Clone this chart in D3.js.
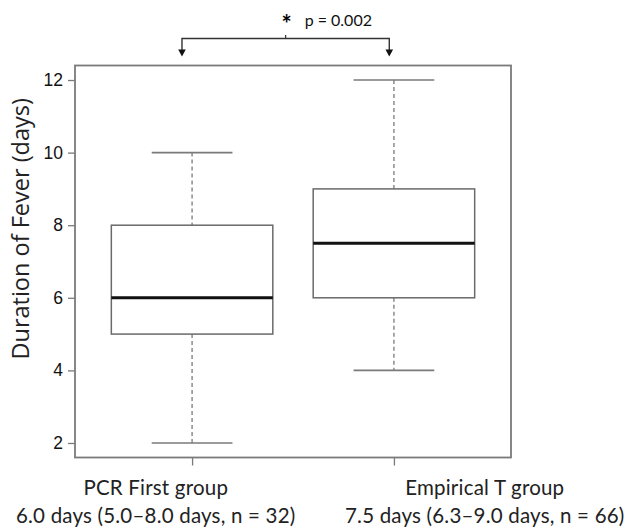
<!DOCTYPE html>
<html>
<head>
<meta charset="utf-8">
<script src="https://cdn.jsdelivr.net/npm/d3@7"></script>
<style>
  html, body { margin: 0; padding: 0; background: #fff; }
  svg { display: block; }
</style>
</head>
<body>
<div id="chart"></div>
<script>
// ── Data ──────────────────────────────────────────────────────
const groups      = ['PCR First group', 'Empirical T group'];
const summaries   = ['6.0 days (5.0–8.0 days, n = 32)', '7.5 days (6.3–9.0 days, n = 66)'];
const whiskerLow  = [2, 4];
const q1          = [5, 6];
const medians     = [6, 7.5];
const q3          = [8, 9];
const whiskerHigh = [10, 12];
const yTicks      = [2, 4, 6, 8, 10, 12];
const pLabel      = 'p = 0.002';

const boxes = groups.map((g, i) => ({
  name: g, pos: i + 1,
  lo: whiskerLow[i], q1: q1[i], med: medians[i], q3: q3[i], hi: whiskerHigh[i]
}));

const width = 633, height = 527;
const frame = { left: 75, right: 511, top: 65.5, bottom: 457.5 };

const svg = d3.select('#chart').append('svg')
  .attr('width', width)
  .attr('height', height);

// R-style limits: groups at 1..n, padded by 4%
const x = d3.scaleLinear().domain([0.42, 2.58]).range([frame.left, frame.right]);
const y = d3.scaleLinear().domain([1.6, 12.4]).range([frame.bottom, frame.top]);

const grey = '#7a7a7a';
const tickFont = '"Liberation Sans", Arial, sans-serif';
const labelFont = 'Lato, "Open Sans", sans-serif';
const boxHalf = 0.4;

// ── Frame ─────────────────────────────────────────────────────
svg.append('rect')
  .attr('x', frame.left).attr('y', frame.top)
  .attr('width', frame.right - frame.left)
  .attr('height', frame.bottom - frame.top)
  .attr('fill', 'none')
  .attr('stroke', grey)
  .attr('stroke-width', 1.8);

// ── Y axis ────────────────────────────────────────────────────
const yAxis = svg.append('g')
  .attr('transform', `translate(${frame.left},0)`)
  .call(d3.axisLeft(y).tickValues(yTicks).tickSize(7).tickPadding(5).tickFormat(d3.format('d')));
yAxis.select('.domain').remove();
yAxis.selectAll('.tick line').attr('stroke', grey).attr('stroke-width', 1.3);
yAxis.selectAll('.tick text')
  .attr('fill', '#111')
  .attr('font-size', 17.5)
  .attr('font-family', tickFont);

svg.append('text')
  .attr('transform', `translate(29,${y(7.9)}) rotate(-90)`)
  .attr('text-anchor', 'middle')
  .attr('fill', '#222')
  .attr('font-size', 23.5)
  .attr('font-family', '"Open Sans", sans-serif')
  .text('Duration of Fever (days)');

// ── X axis ticks ──────────────────────────────────────────────
const xAxis = svg.append('g')
  .attr('transform', `translate(0,${frame.bottom})`)
  .call(d3.axisBottom(x).tickValues(boxes.map(b => b.pos)).tickSize(8).tickFormat(''));
xAxis.select('.domain').remove();
xAxis.selectAll('.tick line').attr('stroke', grey).attr('stroke-width', 1.3);

// Group labels (set slightly apart from the ticks, as in the figure)
const labelShift = [-0.18, 0.45];
boxes.forEach((b, i) => {
  const t = svg.append('text')
    .attr('text-anchor', 'middle')
    .attr('fill', '#222')
    .attr('font-size', 20.5)
    .attr('letter-spacing', 0.2)
    .attr('font-family', labelFont);
  t.append('tspan').attr('x', x(b.pos + labelShift[i])).attr('y', 495).text(b.name);
  t.append('tspan').attr('x', x(b.pos + labelShift[i])).attr('y', 523).text(summaries[i]);
});

// ── Boxes ─────────────────────────────────────────────────────
const boxG = svg.append('g').selectAll('g')
  .data(boxes)
  .join('g');

// whiskers
boxG.append('line')
  .attr('x1', d => x(d.pos)).attr('x2', d => x(d.pos))
  .attr('y1', d => y(d.hi)).attr('y2', d => y(d.q3))
  .attr('stroke', grey).attr('stroke-width', 1.3).attr('stroke-dasharray', '4,3');
boxG.append('line')
  .attr('x1', d => x(d.pos)).attr('x2', d => x(d.pos))
  .attr('y1', d => y(d.q1)).attr('y2', d => y(d.lo))
  .attr('stroke', grey).attr('stroke-width', 1.3).attr('stroke-dasharray', '4,3');

// caps
['hi', 'lo'].forEach(k => {
  boxG.append('line')
    .attr('x1', d => x(d.pos - boxHalf / 2)).attr('x2', d => x(d.pos + boxHalf / 2))
    .attr('y1', d => y(d[k])).attr('y2', d => y(d[k]))
    .attr('stroke', grey).attr('stroke-width', 1.6);
});

// box
boxG.append('rect')
  .attr('x', d => x(d.pos - boxHalf))
  .attr('width', d => x(d.pos + boxHalf) - x(d.pos - boxHalf))
  .attr('y', d => y(d.q3))
  .attr('height', d => y(d.q1) - y(d.q3))
  .attr('fill', 'none')
  .attr('stroke', '#6a6a6a')
  .attr('stroke-width', 1.5);

// median
boxG.append('line')
  .attr('x1', d => x(d.pos - boxHalf)).attr('x2', d => x(d.pos + boxHalf))
  .attr('y1', d => y(d.med)).attr('y2', d => y(d.med))
  .attr('stroke', '#111').attr('stroke-width', 3);

// ── Significance bracket ──────────────────────────────────────
const bracketX = [0.95, 1.977];
const bracketTop = 38.5, arrowTip = 56.5;
const bx0 = x(bracketX[0]), bx1 = x(bracketX[1]);
const ann = svg.append('g');

ann.append('path')
  .attr('d', `M${bx0},${arrowTip - 6} V${bracketTop} H${bx1} V${arrowTip - 6}`)
  .attr('fill', 'none')
  .attr('stroke', '#333')
  .attr('stroke-width', 1.4);

[bx0, bx1].forEach(px => {
  ann.append('path')
    .attr('d', `M${px - 3.8},${arrowTip - 7} L${px + 3.8},${arrowTip - 7} L${px},${arrowTip} Z`)
    .attr('fill', '#111');
});

const midX = (bx0 + bx1) / 2;
ann.append('line')
  .attr('x1', midX).attr('x2', midX)
  .attr('y1', bracketTop).attr('y2', bracketTop - 3.5)
  .attr('stroke', '#333').attr('stroke-width', 1.2);

ann.append('text')
  .attr('x', midX + 1).attr('y', 33)
  .attr('text-anchor', 'middle')
  .attr('fill', '#000')
  .attr('font-size', 24)
  .attr('font-weight', 700)
  .attr('font-family', labelFont)
  .text('*');

ann.append('text')
  .attr('x', midX + 19).attr('y', 25.5)
  .attr('fill', '#111')
  .attr('font-size', 16)
  .attr('font-family', labelFont)
  .text(pLabel);
</script>
</body>
</html>
